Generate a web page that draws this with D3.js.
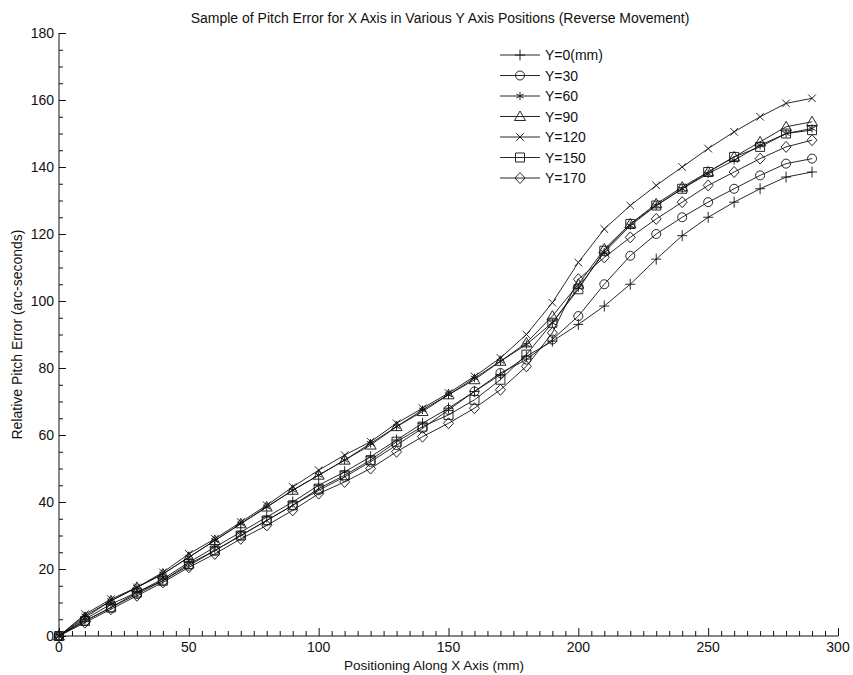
<!DOCTYPE html>
<html>
<head>
<meta charset="utf-8">
<script src="https://cdn.jsdelivr.net/npm/d3@7"></script>
<style>
  body { margin: 0; background: #fff; }
  svg { display: block; font-family: "Liberation Sans", Arial, sans-serif; }
</style>
</head>
<body>
<svg id="chart" width="853" height="675"></svg>
<script>
// Positions along the X axis (mm)
const positions = d3.range(0, 300, 10);

// Relative pitch error (arc-seconds) for each Y axis position
const yLabels = ["Y=0(mm)", "Y=30", "Y=60", "Y=90", "Y=120", "Y=150", "Y=170"];
const markers = ["plus", "circle", "star", "triangle", "cross", "square", "diamond"];

const y0   = [0, 5, 9.5, 13, 17, 22, 26.5, 31, 35.5, 40, 45, 49, 53.5, 58.5, 63.5, 68, 73, 78, 83.5, 88, 93, 98.5, 105, 112.5, 119.5, 125, 129.5, 133.5, 137, 138.5];
const y30  = [0, 4.5, 8.5, 12.5, 16.5, 21, 25.5, 30, 34.5, 39, 43.5, 47.5, 52, 57, 62, 67.5, 73, 78.5, 82.5, 88.5, 95.5, 105, 113.5, 120, 125, 129.5, 133.5, 137.5, 141, 142.5];
const y60  = [0, 6, 10.5, 14.5, 18.5, 23.5, 28.5, 33.5, 38.5, 43.5, 48, 52.5, 57.5, 62.5, 67.5, 72, 77, 82, 87, 93.5, 104, 114.5, 122.5, 128.5, 133.5, 138, 142, 146.5, 150, 151.5];
const y90  = [0, 5.5, 10.5, 14.5, 18.5, 23.5, 28.5, 33.5, 38.5, 43.5, 48, 52.5, 57, 62.5, 67, 72, 76.5, 82, 87.5, 95.5, 105, 115.5, 123, 129, 134, 138.5, 143, 147.5, 152, 153.5];
const y120 = [0, 6.5, 11, 14.5, 19, 24.5, 29, 34, 39, 44.5, 49.5, 54, 58, 63.5, 68, 72.5, 77.5, 83, 90, 99.5, 111.5, 121.5, 128.5, 134.5, 140, 145.5, 150.5, 155, 159, 160.5];
const y150 = [0, 4.5, 8.5, 13, 16.5, 21.5, 25.5, 30, 34.5, 39, 44, 48, 52.5, 58, 62.5, 66, 70.5, 76.5, 84, 93.5, 103.5, 115, 123, 128.5, 133.5, 138.5, 143, 146, 150, 151];
const y170 = [0, 4, 8, 12, 16, 20.5, 24.5, 29, 33, 37.5, 42.5, 46, 50, 55, 59.5, 63.5, 68, 73.5, 80.5, 90.5, 106.5, 113, 119, 124.5, 129.5, 134.5, 138.5, 142.5, 146, 148];

const seriesValues = [y0, y30, y60, y90, y120, y150, y170];

const xMajorTicks = [0, 50, 100, 150, 200, 250, 300];
const yMajorTicks = [0, 20, 40, 60, 80, 100, 120, 140, 160, 180];

const svg = d3.select("#chart");

const x = d3.scaleLinear().domain([0, 300]).range([59, 838]);
const y = d3.scaleLinear().domain([0, 180]).range([636, 33]);

const ink = "#111";

// Title
svg.append("text")
  .attr("x", 440).attr("y", 23)
  .attr("text-anchor", "middle")
  .attr("font-size", 14)
  .attr("fill", ink)
  .text("Sample of Pitch Error for X Axis in Various Y Axis Positions (Reverse Movement)");

// X axis: major ticks every 50, minor every 5, drawn inward
const xAxisG = svg.append("g").attr("transform", `translate(0,${y(0)})`);
xAxisG.append("g")
  .call(d3.axisTop(x).tickValues(d3.range(0, 301, 5).filter(v => v % 50 !== 0)).tickSize(5).tickFormat(""))
  .call(g => g.select(".domain").remove());
xAxisG.append("g")
  .call(d3.axisTop(x).tickValues(xMajorTicks).tickSize(8).tickFormat(""))
  .call(g => g.select(".domain").attr("d", `M${x(0)},0H${x(300)}`));
xAxisG.selectAll("line, path").attr("stroke", ink).attr("stroke-width", 1);
xAxisG.selectAll(".x-lab")
  .data(xMajorTicks).join("text")
  .attr("class", "x-lab")
  .attr("x", d => x(d)).attr("y", 16)
  .attr("text-anchor", "middle")
  .attr("font-size", 14)
  .attr("fill", ink)
  .text(d => d);

// Y axis: major ticks every 20, minor every 5, drawn inward
const yAxisG = svg.append("g").attr("transform", `translate(${x(0)},0)`);
yAxisG.append("g")
  .call(d3.axisRight(y).tickValues(d3.range(0, 181, 5).filter(v => v % 20 !== 0)).tickSize(4).tickFormat(""))
  .call(g => g.select(".domain").remove());
yAxisG.append("g")
  .call(d3.axisRight(y).tickValues(yMajorTicks).tickSize(7).tickFormat(""))
  .call(g => g.select(".domain").attr("d", `M0,${y(0)}V${y(180)}`));
yAxisG.selectAll("line, path").attr("stroke", ink).attr("stroke-width", 1);
yAxisG.selectAll(".y-lab")
  .data(yMajorTicks).join("text")
  .attr("class", "y-lab")
  .attr("x", -5).attr("y", d => y(d) + 5)
  .attr("text-anchor", "end")
  .attr("font-size", 14)
  .attr("fill", ink)
  .text(d => d);

// Axis titles
svg.append("text")
  .attr("x", 434).attr("y", 670)
  .attr("text-anchor", "middle")
  .attr("font-size", 13.5)
  .attr("fill", ink)
  .text("Positioning Along X Axis (mm)");
svg.append("text")
  .attr("transform", `translate(22,${(y(0) + y(180)) / 2}) rotate(-90)`)
  .attr("text-anchor", "middle")
  .attr("font-size", 14)
  .attr("fill", ink)
  .text("Relative Pitch Error (arc-seconds)");

// Marker shapes, outlined only
function markerPath(type) {
  const r = 4.5;
  switch (type) {
    case "plus":
      return `M-5,0H5M0,-5.5V5.5`;
    case "circle":
      return d3.arc()({ innerRadius: 0, outerRadius: r, startAngle: 0, endAngle: 2 * Math.PI });
    case "star": {
      const a = 4.2, b = a * 0.866;
      return `M0,${-a}V${a}M${-b},${-a / 2}L${b},${a / 2}M${-b},${a / 2}L${b},${-a / 2}`;
    }
    case "triangle":
      return `M0,-5.5L5.5,4L-5.5,4Z`;
    case "cross":
      return `M-3.8,-3.8L3.8,3.8M-3.8,3.8L3.8,-3.8`;
    case "square":
      return `M-4.5,-4.5H4.5V4.5H-4.5Z`;
    case "diamond":
      return `M0,-5.5L5,0L0,5.5L-5,0Z`;
  }
}

const line = d3.line().x(d => x(d[0])).y(d => y(d[1]));

const plot = svg.append("g");
seriesValues.forEach((vals, i) => {
  const pts = positions.map((p, j) => [p, vals[j]]);
  const g = plot.append("g");
  g.append("path")
    .attr("d", line(pts))
    .attr("fill", "none")
    .attr("stroke", ink)
    .attr("stroke-width", 0.9);
  g.selectAll("path.mk")
    .data(pts).join("path")
    .attr("class", "mk")
    .attr("transform", d => `translate(${x(d[0])},${y(d[1])})`)
    .attr("d", markerPath(markers[i]))
    .attr("fill", "none")
    .attr("stroke", ink)
    .attr("stroke-width", 0.9);
});

// Legend
const legend = svg.append("g").attr("transform", "translate(500,55)");
const rowH = 20.5;
yLabels.forEach((lab, i) => {
  const row = legend.append("g").attr("transform", `translate(0,${i * rowH})`);
  row.append("line").attr("x1", 0).attr("x2", 40).attr("y1", 0).attr("y2", 0)
    .attr("stroke", ink).attr("stroke-width", 0.9);
  row.append("path").attr("transform", "translate(20,0)")
    .attr("d", markerPath(markers[i]))
    .attr("fill", "none").attr("stroke", ink).attr("stroke-width", 0.9);
  row.append("text").attr("x", 45).attr("y", 5)
    .attr("font-size", 14).attr("fill", ink)
    .text(lab);
});
</script>
</body>
</html>
